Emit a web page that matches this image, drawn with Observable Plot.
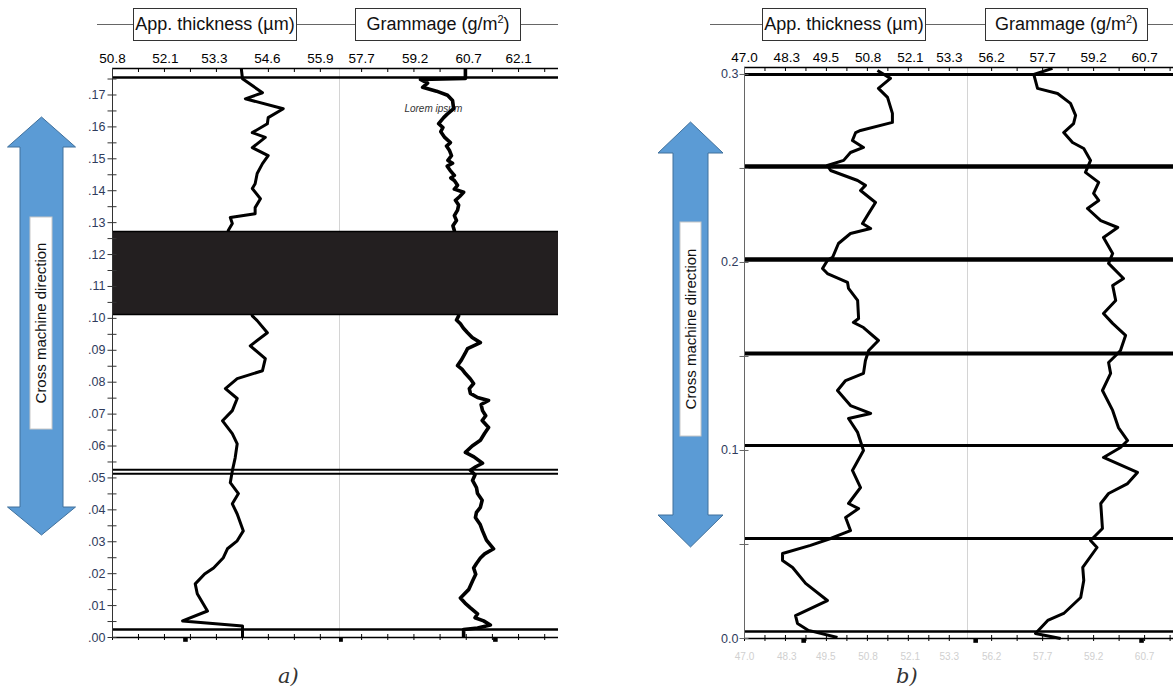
<!DOCTYPE html>
<html><head><meta charset="utf-8">
<script src="https://cdn.jsdelivr.net/npm/d3@7"></script>
<script src="https://cdn.jsdelivr.net/npm/@observablehq/plot@0.6"></script>
<style>
body{margin:0;background:#fff;}
#page{position:relative;width:1173px;height:696px;overflow:hidden;background:#fff;
 font-family:"Liberation Sans Narrow","Arial Narrow","Liberation Sans",Arial,sans-serif;}
.track{position:absolute;}
.hline{position:absolute;height:0;border-top:1px solid #666;}
.hbox{position:absolute;top:8px;height:31px;border:1px solid #333;background:#fff;text-align:center;
 line-height:31px;font-size:18px;color:#111;white-space:nowrap;}
.hbox sup{font-size:11px;line-height:0;}
.cap{position:absolute;top:664px;font-family:"DejaVu Serif",serif;font-style:italic;font-size:21px;color:#333;}
#deco{position:absolute;left:0;top:0;pointer-events:none;}
</style></head><body><div id="page"></div>
<script>
// ---------------- data (position across machine, value) ----------------
const aThicknessProfile = [
 [0.1783,53.96],[0.1751,53.99],[0.1707,54.48],[0.1688,54.06],[0.1657,54.99],[0.1629,54.62],
 [0.1610,54.60],[0.1582,54.23],[0.1567,54.55],[0.1535,54.23],[0.1510,54.62],[0.1485,54.48],
 [0.1454,54.35],[0.1422,54.30],[0.1407,54.23],[0.1375,54.43],[0.1347,54.30],[0.1328,54.30],
 [0.1316,53.69],[0.1297,53.74],[0.1275,53.64],[0.1140,53.90],[0.1008,54.23],[0.0993,54.35],
 [0.0955,54.60],[0.0914,54.18],[0.0874,54.55],[0.0836,54.48],[0.0811,53.86],[0.0780,53.57],
 [0.0749,53.86],[0.0711,53.74],[0.0679,53.50],[0.0639,53.74],[0.0607,53.86],[0.0563,53.81],
 [0.0522,53.74],[0.0485,53.69],[0.0451,53.89],[0.0419,53.74],[0.0387,53.86],[0.0334,54.01],
 [0.0303,53.86],[0.0278,53.62],[0.0250,53.52],[0.0218,53.28],[0.0199,53.06],[0.0168,52.83],
 [0.0137,52.88],[0.0083,53.13],[0.0052,52.52],[0.0036,53.99],[0.0000,53.99]
];
const aGrammageProfile = [
 [0.1783,60.61],[0.1752,60.61],[0.1749,59.35],[0.1737,59.55],[0.1724,59.41],[0.1712,59.80],
 [0.1699,60.11],[0.1683,60.25],[0.1657,60.28],[0.1640,60.10],[0.1629,60.00],[0.1610,59.86],
 [0.1598,59.98],[0.1585,59.92],[0.1567,60.03],[0.1551,60.19],[0.1540,60.08],[0.1527,60.16],
 [0.1510,60.22],[0.1495,60.12],[0.1486,60.25],[0.1477,60.10],[0.1464,60.18],[0.1448,60.30],
 [0.1440,60.20],[0.1432,60.30],[0.1417,60.39],[0.1405,60.30],[0.1395,60.56],[0.1382,60.45],
 [0.1370,60.33],[0.1355,60.42],[0.1339,60.39],[0.1322,60.30],[0.1307,60.36],[0.1290,60.26],
 [0.1275,60.30],[0.1140,60.40],[0.1008,60.42],[0.0995,60.36],[0.0983,60.47],[0.0970,60.55],
 [0.0955,60.67],[0.0940,60.80],[0.0924,61.03],[0.0905,60.67],[0.0890,60.60],[0.0870,60.50],
 [0.0852,60.39],[0.0840,60.52],[0.0827,60.61],[0.0810,60.75],[0.0796,60.84],[0.0780,60.72],
 [0.0765,60.75],[0.0752,60.95],[0.0743,61.26],[0.0730,61.05],[0.0711,61.09],[0.0695,61.18],
 [0.0680,61.08],[0.0658,61.26],[0.0640,61.15],[0.0618,61.03],[0.0600,60.80],[0.0580,60.61],
 [0.0566,60.85],[0.0546,61.09],[0.0535,60.90],[0.0524,60.75],[0.0510,60.88],[0.0492,60.81],
 [0.0470,60.92],[0.0451,60.95],[0.0430,61.08],[0.0408,61.03],[0.0392,60.92],[0.0376,60.89],
 [0.0355,61.02],[0.0334,61.09],[0.0305,61.20],[0.0278,61.40],[0.0262,61.15],[0.0249,61.03],
 [0.0232,60.92],[0.0218,60.84],[0.0198,60.90],[0.0177,60.81],[0.0150,60.70],[0.0124,60.47],
 [0.0108,60.60],[0.0093,60.75],[0.0074,60.95],[0.0062,60.88],[0.0052,61.12],[0.0039,61.31],
 [0.0030,60.95],[0.0025,60.56],[0.0000,60.56]
];
const bThicknessProfile = [
 [0.3021,51.09],[0.2979,51.49],[0.2926,51.12],[0.2878,51.40],[0.2793,51.55],[0.2745,51.55],
 [0.2702,50.57],[0.2691,50.42],[0.2649,50.32],[0.2612,50.66],[0.2585,50.26],[0.2543,50.05],
 [0.2516,49.55],[0.2489,49.65],[0.2436,50.48],[0.2410,50.72],[0.2383,50.57],[0.2319,51.03],
 [0.2261,50.82],[0.2207,50.63],[0.2181,50.88],[0.2154,50.26],[0.2101,49.89],[0.2027,49.71],
 [0.2011,49.55],[0.1968,49.40],[0.1941,49.55],[0.1894,50.17],[0.1862,50.20],[0.1798,50.48],
 [0.1702,50.51],[0.1681,50.35],[0.1654,50.66],[0.1585,51.12],[0.1532,50.82],[0.1479,50.72],
 [0.1410,50.66],[0.1372,50.11],[0.1319,49.86],[0.1239,50.26],[0.1197,50.88],[0.1170,50.20],
 [0.1096,50.48],[0.1000,50.66],[0.0894,50.32],[0.0803,50.57],[0.0718,50.20],[0.0691,50.51],
 [0.0644,50.11],[0.0574,50.26],[0.0532,49.65],[0.0495,49.03],[0.0452,48.17],[0.0415,48.17],
 [0.0378,48.48],[0.0293,48.88],[0.0202,49.55],[0.0122,48.57],[0.0080,48.63],[0.0043,48.97],
 [0.0005,49.86]
];
const bGrammageProfile = [
 [0.3032,57.99],[0.3000,57.44],[0.2926,57.55],[0.2899,58.14],[0.2846,58.52],[0.2782,58.67],
 [0.2739,58.61],[0.2691,58.32],[0.2638,58.58],[0.2606,58.91],[0.2543,59.11],[0.2479,58.96],
 [0.2426,59.35],[0.2367,59.20],[0.2330,59.35],[0.2287,59.02],[0.2223,59.41],[0.2186,59.91],
 [0.2133,59.49],[0.2048,59.76],[0.1995,59.64],[0.1915,60.08],[0.1878,59.76],[0.1798,59.85],
 [0.1729,59.49],[0.1676,59.76],[0.1612,60.14],[0.1532,59.99],[0.1516,59.91],[0.1468,59.64],
 [0.1410,59.70],[0.1319,59.46],[0.1213,59.76],[0.1122,59.93],[0.1053,60.20],[0.1016,59.99],
 [0.0963,59.49],[0.0883,60.49],[0.0824,60.20],[0.0771,59.64],[0.0718,59.41],[0.0585,59.46],
 [0.0521,59.11],[0.0484,59.30],[0.0378,58.88],[0.0309,58.91],[0.0218,58.82],[0.0133,58.32],
 [0.0096,57.85],[0.0027,57.49],[0.0000,58.23]
];
const aRules = [0.1755, 0.0526, 0.0513, 0.0025];
const aRuleWidths = [2.5, 2, 2, 2.5];
const aBand = [0.1012, 0.1272];
const bRules = [0.3, 0.251, 0.2016, 0.1516, 0.1027, 0.0532, 0.0037];
const bRuleWidths = [3, 4.5, 4.5, 4, 3, 3, 2.5];
const aThicknessTicks = [50.8, 52.1, 53.3, 54.6, 55.9];
const aGrammageTicks = [57.7, 59.2, 60.7, 62.1];
const bThicknessTicks = [47.0, 48.3, 49.5, 50.8, 52.1, 53.3];
const bGrammageTicks = [56.2, 57.7, 59.2, 60.7];
const aYLabels = [0, .01, .02, .03, .04, .05, .06, .07, .08, .09, .10, .11, .12, .13, .14, .15, .16, .17];
const bYLabels = [0.0, 0.1, 0.2, 0.3];
const aThicknessMarkers = [52.59];
const aGrammageMarkers = [57.11, 61.45];
const bThicknessMarkers = [48.82];
const bGrammageMarkers = [55.73, 60.61];
const annotation = {text: "Lorem ipsum", value: 58.9, position: 0.1657};
const headers = ["App. thickness (µm)", "Grammage (g/m<sup>2</sup>)"];
const captions = ["a)", "b)"];
const arrowLabel = "Cross machine direction";

// ---------------- helpers ----------------
const FONT = '"Liberation Sans Narrow","Arial Narrow","Liberation Sans",Arial,sans-serif';
const TICKFONT = '"Liberation Sans",Arial,sans-serif';
const page = document.getElementById("page");

function minorTicks(labels, domain) {
  const step = (labels[labels.length - 1] - labels[0]) / (labels.length - 1) / 2;
  const out = [];
  for (let v = labels[0]; v <= domain[1] + 1e-9; v += step) out.push(v);
  for (let v = labels[0] - step; v >= domain[0] - 1e-9; v -= step) out.push(v);
  return out;
}

function track(o) {
  const fw = o.width - o.ml;                 // frame width
  const fh = o.height - o.mt - o.mb;         // frame height
  const marks = [];
  if (o.divider) marks.push(Plot.ruleX([o.xDomain[0]], {stroke: "#d4d4d4", strokeWidth: 1}));
  marks.push(Plot.ruleY(o.rules, {stroke: "#000", strokeWidth: (d, i) => o.ruleWidths[i]}));
  if (o.annotation) marks.push(Plot.text([o.annotation], {x: d => d.value, y: d => d.position,
     text: d => d.text, textAnchor: "start", fontStyle: "italic", fontSize: 10, fill: "#333",
     fontFamily: TICKFONT}));
  marks.push(Plot.line(o.data, {x: d => d[1], y: d => d[0], stroke: "#000", strokeWidth: o.sw,
     strokeLinejoin: "round", strokeLinecap: "butt"}));
  if (o.band) {
    marks.push(Plot.rect([o.band], {x1: () => o.xDomain[0], x2: () => o.xDomain[1],
       y1: d => d[0], y2: d => d[1], fill: "#231f20"}));
    marks.push(Plot.ruleY(o.band, {stroke: "#000", strokeWidth: 1.5}));
  }
  // frame lines top & bottom
  marks.push(Plot.ruleY([o.yDomain[1]], {stroke: "#000", strokeWidth: 1.5}));
  marks.push(Plot.ruleY([o.yDomain[0]], {stroke: "#000", strokeWidth: 1.5}));
  // top axis labels
  marks.push(Plot.text(o.xTicks, {x: d => d, frameAnchor: "top", lineAnchor: "bottom", dy: -6,
     text: d3.format(".1f"), fontSize: 13.5, fontFamily: TICKFONT, fill: "#000"}));
  const mt = minorTicks(o.xTicks, o.xDomain);
  // tick marks (top: pointing down into frame; bottom: crossing)
  marks.push(Plot.tickX(mt, {x: d => d, insetTop: 0, insetBottom: fh - 4, stroke: "#000"}));
  marks.push(Plot.tickX(mt, {x: d => d, insetTop: fh - 3, insetBottom: -3, stroke: "#000"}));
  if (o.bottomLabels) marks.push(Plot.text(o.xTicks, {x: d => d, frameAnchor: "bottom", lineAnchor: "top", dy: 14,
     text: d3.format(".1f"), fontSize: 10, fontFamily: TICKFONT, fill: "#d0d0d0"}));
  if (o.markers) marks.push(Plot.dot(o.markers, {x: d => d, y: () => o.yDomain[0], symbol: "square", r: 2.6, fill: "#000", dy: 2}));
  if (o.yAxis) {
    marks.push(Plot.ruleX([o.xDomain[0]], {stroke: o.yAxis.lineColor, strokeWidth: 1}));
    marks.push(Plot.text(o.yAxis.labels, {y: d => d, frameAnchor: "left", textAnchor: "end", dx: -o.yAxis.pad,
       text: o.yAxis.format, fontSize: 12.5, fontFamily: TICKFONT, fill: "#2f3b5c"}));
    marks.push(Plot.tickY(o.yAxis.ticks, {y: d => d, insetLeft: -4.5, insetRight: fw - 4.5, stroke: o.yAxis.lineColor}));
  }
  const svg = Plot.plot({
    width: o.width, height: o.height,
    marginLeft: o.ml, marginRight: 0, marginTop: o.mt, marginBottom: o.mb,
    x: {domain: o.xDomain, axis: null}, y: {domain: o.yDomain, axis: null},
    style: {fontFamily: TICKFONT, fontSize: "13px", background: "transparent", color: "#111"},
    marks
  });
  const div = document.createElement("div");
  div.className = "track";
  div.style.left = o.left + "px"; div.style.top = o.top + "px";
  div.appendChild(svg);
  page.appendChild(div);
}

const fmtA = d => d3.format(".2f")(d).replace(/^0/, "");
const aYTicks = [];
aYLabels.forEach(v => { aYTicks.push(v); aYTicks.push(v + 0.005); });

// Panel a
const aYDomain = [0, 0.1783];
track({left: 70, top: 40, width: 269, height: 617, ml: 42, mt: 28, mb: 20,
  xDomain: [50.8, 56.37], yDomain: aYDomain, xTicks: aThicknessTicks, data: aThicknessProfile, sw: 3,
  rules: aRules, ruleWidths: aRuleWidths, band: aBand, markers: aThicknessMarkers,
  yAxis: {labels: aYLabels, ticks: aYTicks, format: fmtA, pad: 7, lineColor: "#333"}});
track({left: 339, top: 40, width: 219, height: 617, ml: 0, mt: 28, mb: 20,
  xDomain: [57.08, 63.22], yDomain: aYDomain, xTicks: aGrammageTicks, data: aGrammageProfile, sw: 3.6,
  rules: aRules, ruleWidths: aRuleWidths, band: aBand, markers: aGrammageMarkers, divider: true,
  annotation});

// Panel b
const bYDomain = [0, 0.3037];
const bYTicks = [0, 0.05, 0.1, 0.15, 0.2, 0.25, 0.3];
track({left: 700, top: 40, width: 267, height: 630, ml: 44, mt: 27, mb: 32,
  xDomain: [47.0, 53.86], yDomain: bYDomain, xTicks: bThicknessTicks, data: bThicknessProfile, sw: 3,
  rules: bRules, ruleWidths: bRuleWidths, markers: bThicknessMarkers, bottomLabels: true,
  yAxis: {labels: bYLabels, ticks: bYTicks, format: d3.format(".1f"), pad: 6, lineColor: "#666"}});
track({left: 967, top: 40, width: 206, height: 630, ml: 0, mt: 27, mb: 32,
  xDomain: [55.49, 61.55], yDomain: bYDomain, xTicks: bGrammageTicks, data: bGrammageProfile, sw: 3,
  rules: bRules, ruleWidths: bRuleWidths, markers: bGrammageMarkers, divider: true, bottomLabels: true});

// ---------------- headers ----------------
function hline(x1, x2) {
  const d = document.createElement("div"); d.className = "hline";
  d.style.left = x1 + "px"; d.style.width = (x2 - x1) + "px"; d.style.top = "24px"; page.appendChild(d);
}
function hbox(x, w, html) {
  const d = document.createElement("div"); d.className = "hbox";
  d.style.left = x + "px"; d.style.width = w + "px"; d.innerHTML = html; page.appendChild(d);
}
hline(97, 558); hbox(133, 162, headers[0]); hbox(355, 164, headers[1]);
hline(710, 1173); hbox(762, 162, headers[0]); hbox(985, 161, headers[1]);
[[289, captions[0]], [907, captions[1]]].forEach(([x, t]) => {
  const d = document.createElement("div"); d.className = "cap"; d.textContent = t;
  d.style.left = (x - 11) + "px"; page.appendChild(d);
});

// ---------------- arrows ----------------
const deco = d3.select(page).append("svg").attr("id", "deco").attr("width", 1173).attr("height", 696);
function arrow(cx, t1, h1, h2, t2, hw, sw, box) {
  const pts = [[cx, t1], [cx + hw, h1], [cx + sw, h1], [cx + sw, h2], [cx + hw, h2], [cx, t2],
    [cx - hw, h2], [cx - sw, h2], [cx - sw, h1], [cx - hw, h1]];
  deco.append("polygon").attr("points", pts.map(p => p.join(",")).join(" "))
    .attr("fill", "#5b9bd5").attr("stroke", "#41719c").attr("stroke-width", 1);
  deco.append("rect").attr("x", box[0]).attr("y", box[1]).attr("width", box[2]).attr("height", box[3])
    .attr("fill", "#fff").attr("stroke", "#c8c8c8").attr("stroke-width", 1);
  deco.append("text").attr("transform", `translate(${box[0] + box[2] / 2 + 5},${box[1] + box[3] / 2}) rotate(-90)`)
    .attr("text-anchor", "middle").attr("font-family", FONT).attr("font-size", 15).attr("fill", "#111")
    .text(arrowLabel);
}
arrow(41.5, 117, 147, 507, 535, 34, 21.5, [30, 217, 22, 212]);
arrow(690.5, 122, 153, 515, 547, 32.5, 17.5, [680, 222, 21, 214]);
</script>
</body></html>
